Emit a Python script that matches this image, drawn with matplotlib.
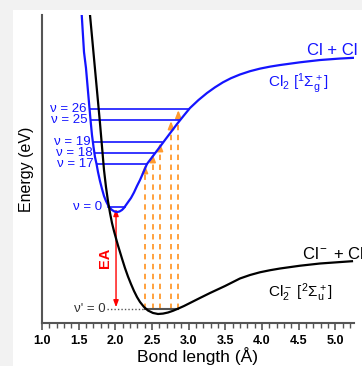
import matplotlib
matplotlib.use("Agg")
import matplotlib.pyplot as plt
from matplotlib.patches import Rectangle

plt.rcParams['font.family'] = ['Liberation Sans', 'DejaVu Sans']
plt.rcParams['mathtext.fontset'] = 'custom'
plt.rcParams['mathtext.rm'] = 'Liberation Sans'
plt.rcParams['mathtext.it'] = 'Liberation Sans:italic'
plt.rcParams['mathtext.bf'] = 'Liberation Sans:bold'

# neutral Cl2 potential (bond length in A, energy in eV)
neutral_r = [1.542, 1.573, 1.600, 1.632, 1.662, 1.682, 1.703, 1.723, 1.744, 1.764,
             1.791, 1.819, 1.846, 1.873, 1.900, 1.928, 1.955, 1.989, 2.023, 2.057,
             2.091, 2.118, 2.146, 2.180, 2.214, 2.255, 2.296, 2.337, 2.385, 2.432,
             2.494, 2.555, 2.617, 2.678, 2.760, 2.842, 2.930, 3.019, 3.135, 3.251,
             3.360, 3.469, 3.578, 3.701, 3.838, 3.974, 4.111, 4.247, 4.520, 4.793,
             5.066, 5.256]
neutral_e = [5.246, 4.596, 4.316, 3.842, 3.404, 3.140, 2.930, 2.754, 2.632, 2.491,
             2.333, 2.193, 2.070, 1.982, 1.912, 1.860, 1.825, 1.798, 1.789, 1.798,
             1.825, 1.860, 1.912, 1.974, 2.035, 2.132, 2.246, 2.351, 2.491, 2.632,
             2.737, 2.842, 2.947, 3.053, 3.193, 3.333, 3.474, 3.614, 3.754, 3.877,
             3.977, 4.065, 4.137, 4.202, 4.260, 4.305, 4.340, 4.368, 4.416, 4.456,
             4.482, 4.495]

# anion Cl2- potential
anion_r = [1.655, 1.689, 1.723, 1.757, 1.791, 1.819, 1.846, 1.873, 1.900, 1.928,
           1.955, 1.982, 2.010, 2.037, 2.064, 2.091, 2.132, 2.173, 2.214, 2.255,
           2.296, 2.337, 2.392, 2.446, 2.514, 2.583, 2.651, 2.719, 2.787, 2.855,
           2.937, 3.019, 3.155, 3.292, 3.497, 3.701, 3.838, 3.974, 4.111, 4.247,
           4.520, 4.793, 5.229]
anion_e = [5.246, 4.772, 4.298, 3.825, 3.351, 2.930, 2.526, 2.228, 1.982, 1.772,
           1.596, 1.456, 1.325, 1.202, 1.088, 0.974, 0.807, 0.658, 0.526, 0.404,
           0.298, 0.211, 0.123, 0.061, 0.018, 0.000, 0.007, 0.026, 0.056, 0.093,
           0.140, 0.193, 0.281, 0.368, 0.491, 0.623, 0.684, 0.732, 0.768, 0.798,
           0.847, 0.886, 0.926]

# vibrational levels of the neutral
levels = ['26', '25', '19', '18', '17']
level_e = [3.596, 3.404, 3.018, 2.825, 2.632]
level_left = [1.649, 1.662, 1.698, 1.725, 1.744]
level_right = [3.008, 2.887, 2.640, 2.545, 2.432]
arrow_r = [2.860, 2.760, 2.610, 2.510, 2.405]

v0_e = 1.872
v0_left, v0_right = 1.90, 2.13
anion_v0_e = 0.088

blue = '#1414ff'
orange = '#ff9a2e'
gray = '#555555'

fig = plt.figure(figsize=(3.62, 3.66), dpi=100, facecolor='#f2f2f2')
fig.patches.append(Rectangle((13 / 362, 0), 1, 1 - 10 / 366, transform=fig.transFigure,
                             facecolor='white', edgecolor='none', zorder=-10))
ax = fig.add_axes([42 / 362, 43 / 366, 311.5 / 362, 308 / 366])
ax.patch.set_alpha(0)

ax.plot(neutral_r, neutral_e, color=blue, lw=1.6, zorder=4)
ax.plot(anion_r, anion_e, color='black', lw=1.6, zorder=4)

# levels and orange transitions
for name, e, x0, x1, xa in zip(levels, level_e, level_left, level_right, arrow_r):
    ax.plot([x0, x1], [e, e], color=blue, lw=1.2, zorder=3)
    ax.text(x0 - 0.04, e, '\u03bd = ' + name, color=blue, fontsize=9.5,
            ha='right', va='center')
    ax.plot([xa, xa], [anion_v0_e, e - 0.1], color=orange, lw=1.3,
            dashes=(3, 2.5), zorder=2)
    ax.annotate('', xy=(xa, e - 0.02), xytext=(xa, e - 0.15),
                arrowprops=dict(arrowstyle='-|>,head_width=0.18,head_length=0.45',
                                color=orange, lw=1.2, shrinkA=0, shrinkB=0), zorder=2)

ax.plot([v0_left, v0_right], [v0_e, v0_e], color=blue, lw=1.2, zorder=3)
ax.text(v0_left - 0.08, v0_e, '\u03bd = 0', color=blue, fontsize=9.5,
        ha='right', va='center')

# anion ground level
ax.plot([1.89, 2.40], [anion_v0_e, anion_v0_e], color=gray, lw=1, ls=(0, (1, 1.5)))
ax.plot([2.40, 2.86], [anion_v0_e, anion_v0_e], color=gray, lw=1.5, zorder=3)
ax.text(1.87, anion_v0_e, "\u03bd' = 0", color='#333333', fontsize=9.5,
        ha='right', va='center')

# electron affinity
ax.annotate('', xy=(2.01, v0_e - 0.03), xytext=(2.01, anion_v0_e + 0.03),
            arrowprops=dict(arrowstyle='<|-|>,head_width=0.15,head_length=0.4',
                            color='red', lw=1, shrinkA=0, shrinkB=0))
ax.text(1.86, 0.98, 'EA', color='red', fontsize=10.5, fontweight='bold',
        rotation=90, ha='center', va='center')

# state labels
ax.text(5.30, 4.544, 'Cl + Cl', color=blue, fontsize=12, ha='right', va='baseline',
        clip_on=False)
ax.text(4.083, 3.982, r'Cl$_2$ [$^1\Sigma_\mathrm{g}^+$]', color=blue, fontsize=11,
        ha='left', va='baseline')
ax.text(4.543, 0.965, r'Cl$^-$ + Cl', color='black', fontsize=12, ha='left',
        va='baseline', clip_on=False)
ax.text(4.083, 0.298, r'Cl$_2^-$ [$^2\Sigma_\mathrm{u}^+$]', color='black', fontsize=11,
        ha='left', va='baseline')

ax.set_xlim(1.0, 5.25)
ax.set_ylim(-0.158, 5.246)
ax.set_xticks([1.0, 1.5, 2.0, 2.5, 3.0, 3.5, 4.0, 4.5, 5.0])
ax.set_xticks([1.0 + 0.1 * i for i in range(43)], minor=True)
ax.set_yticks([])
for s in ['top', 'right']:
    ax.spines[s].set_visible(False)
for s in ['left', 'bottom']:
    ax.spines[s].set_color(gray)
    ax.spines[s].set_linewidth(1.5)
ax.tick_params(axis='x', which='major', direction='out', length=5, width=1.2,
               color=gray, pad=4, labelsize=9)
ax.tick_params(axis='x', which='minor', direction='out', length=3.5, width=1,
               color=gray)
for lab in ax.get_xticklabels():
    lab.set_fontweight('bold')

ax.set_xlabel('Bond length (\u00c5)', fontsize=12.5, labelpad=0)
ax.set_ylabel('Energy (eV)', fontsize=11.5, labelpad=6)

plt.savefig('out.png', dpi=100, facecolor=fig.get_facecolor())
